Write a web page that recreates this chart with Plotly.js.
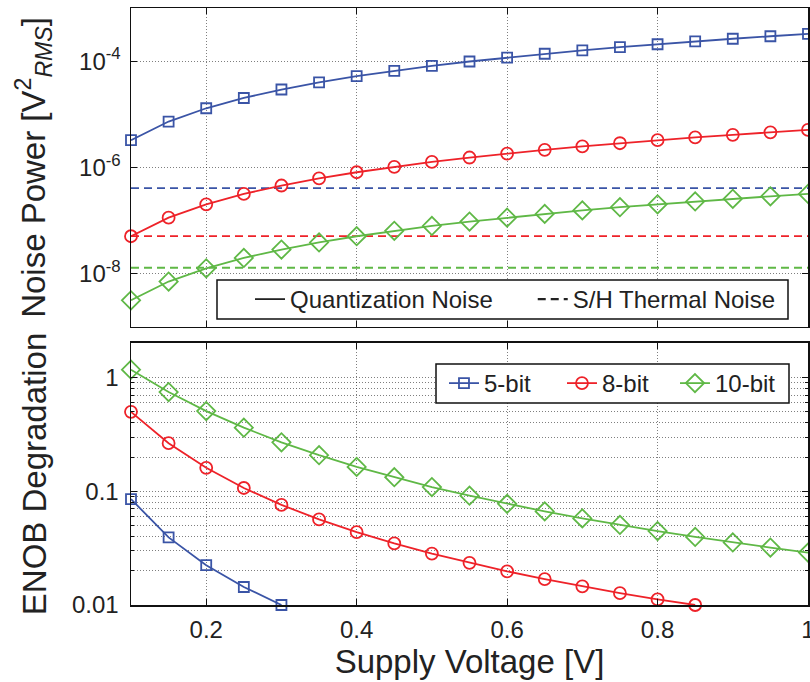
<!DOCTYPE html>
<html>
<head>
<meta charset="utf-8">
<script src="https://cdn.plot.ly/plotly-3.0.1.min.js"></script>
<style>
  html, body { margin: 0; padding: 0; background: #fff; }
  #chart { width: 810px; height: 682px; }
</style>
</head>
<body>
<div id="chart"></div>
<script>
// Supply voltage sweep [V]
const supplyVoltage = [0.1, 0.15, 0.2, 0.25, 0.3, 0.35, 0.4, 0.45, 0.5, 0.55,
                       0.6, 0.65, 0.7, 0.75, 0.8, 0.85, 0.9, 0.95, 1.0];

// Quantization noise power [V^2 rms]
const quantNoise5 = [3.26e-6, 7.32e-6, 1.30e-5, 2.03e-5, 2.93e-5, 3.99e-5, 5.21e-5, 6.59e-5, 8.14e-5, 9.85e-5,
                     1.17e-4, 1.38e-4, 1.60e-4, 1.83e-4, 2.08e-4, 2.35e-4, 2.64e-4, 2.94e-4, 3.26e-4];
const quantNoise8 = [5.09e-8, 1.14e-7, 2.03e-7, 3.18e-7, 4.58e-7, 6.23e-7, 8.14e-7, 1.03e-6, 1.27e-6, 1.54e-6,
                     1.83e-6, 2.15e-6, 2.49e-6, 2.86e-6, 3.26e-6, 3.67e-6, 4.12e-6, 4.59e-6, 5.09e-6];
const quantNoise10 = [3.18e-9, 7.15e-9, 1.27e-8, 1.99e-8, 2.86e-8, 3.89e-8, 5.09e-8, 6.44e-8, 7.95e-8, 9.62e-8,
                      1.14e-7, 1.34e-7, 1.56e-7, 1.79e-7, 2.03e-7, 2.30e-7, 2.58e-7, 2.87e-7, 3.18e-7];

// S/H thermal noise power [V^2 rms]
const thermalNoise5 = 4.1e-7;
const thermalNoise8 = 5.1e-8;
const thermalNoise10 = 1.3e-8;

// ENOB degradation [bits], shown down to 0.01
const enob5 = [0.0855, 0.0393, 0.0224, 0.0144, 0.0100];
const enob8 = [0.500, 0.265, 0.161, 0.107, 0.076, 0.0566, 0.0437, 0.0348, 0.0283, 0.0235,
               0.0198, 0.0169, 0.0146, 0.0127, 0.0112, 0.0100];
const enob10 = [1.174, 0.747, 0.508, 0.363, 0.270, 0.208, 0.164, 0.133, 0.109, 0.0915,
                0.0776, 0.0666, 0.0578, 0.0506, 0.0447, 0.0397, 0.0355, 0.0320, 0.0289];

// Tick labels
const voltageTicks = [0.2, 0.4, 0.6, 0.8, 1];
const voltageTickText = ['0.2', '0.4', '0.6', '0.8', '1'];
const noiseTicks = [1e-8, 1e-6, 1e-4];
const noiseTickText = ['10<sup>-8</sup>', '10<sup>-6</sup>', '10<sup>-4</sup>'];
const enobTicks = [0.01, 0.1, 1];
const enobTickText = ['0.01', '0.1', '1'];
const enobMinorTicks = [0.02, 0.03, 0.04, 0.05, 0.06, 0.07, 0.08, 0.09,
                        0.2, 0.3, 0.4, 0.5, 0.6, 0.7, 0.8, 0.9, 2];

const BLUE = '#3a54a6';
const RED = '#ee2229';
const GREEN = '#5fb846';
const FONT = 'Liberation Sans, Arial, Helvetica, sans-serif';
const LW = 1.8;
const DASH = '8px,5px';
const GRID_COLOR = 'rgba(0,0,0,0.5)';
const GRID_DASH = '1px,2px';

const series = [
  { name: '5-bit',  color: BLUE,  symbol: 'square-open',  size: 10, q: quantNoise5,  th: thermalNoise5,  enob: enob5,  key: 'legend3' },
  { name: '8-bit',  color: RED,   symbol: 'circle-open',  size: 12, q: quantNoise8,  th: thermalNoise8,  enob: enob8,  key: 'legend4' },
  { name: '10-bit', color: GREEN, symbol: 'diamond-open', size: 14, q: quantNoise10, th: thermalNoise10, enob: enob10, key: 'legend5' }
];

const traces = [];

// Top panel: quantization noise curves and thermal noise levels
series.forEach(s => {
  traces.push({
    x: supplyVoltage, y: s.q, xaxis: 'x', yaxis: 'y',
    type: 'scatter', mode: 'lines+markers', showlegend: false,
    line: { color: s.color, width: LW },
    marker: { symbol: s.symbol, size: s.size, color: s.color, line: { color: s.color, width: LW } },
    cliponaxis: false
  });
  traces.push({
    x: supplyVoltage, y: supplyVoltage.map(() => s.th), xaxis: 'x', yaxis: 'y',
    type: 'scatter', mode: 'lines', showlegend: false,
    line: { color: s.color, width: LW, dash: DASH }
  });
});

// Line-style key for the top panel
traces.push({
  x: [null], y: [null], xaxis: 'x', yaxis: 'y', type: 'scatter', mode: 'lines',
  name: 'Quantization Noise', legend: 'legend',
  line: { color: '#222', width: LW }
});
traces.push({
  x: [null], y: [null], xaxis: 'x', yaxis: 'y', type: 'scatter', mode: 'lines',
  name: 'S/H Thermal Noise', legend: 'legend2',
  line: { color: '#222', width: 2.2, dash: DASH }
});

// Bottom panel: ENOB degradation
series.forEach(s => {
  traces.push({
    x: supplyVoltage.slice(0, s.enob.length), y: s.enob, xaxis: 'x2', yaxis: 'y2',
    type: 'scatter', mode: 'lines+markers', name: s.name, legend: s.key,
    line: { color: s.color, width: LW },
    marker: { symbol: s.symbol, size: s.size, color: s.color, line: { color: s.color, width: LW } },
    cliponaxis: false
  });
});

const gridStyle = { showgrid: true, gridcolor: GRID_COLOR, griddash: GRID_DASH, gridwidth: 1 };
const axisLine = { showline: true, linecolor: '#111', linewidth: 1.5, mirror: 'ticks',
                   ticks: 'inside', ticklen: 6, tickcolor: '#111', tickwidth: 1, zeroline: false };
const tickFont = { family: FONT, size: 24, color: '#222' };
const titleFont = { family: FONT, size: 33, color: '#222' };

const xBase = Object.assign({}, gridStyle, axisLine, {
  range: [0.1, 1], tickmode: 'array', tickvals: voltageTicks, ticktext: voltageTickText,
  tickfont: tickFont, ticklabeloverflow: 'allow'
});

// One single-entry legend per key item, placed inside framed boxes
function keyLegend(xPaper, yPaper) {
  return {
    x: xPaper, xanchor: 'left', y: yPaper, yanchor: 'middle', orientation: 'h',
    bgcolor: 'rgba(0,0,0,0)', borderwidth: 0,
    font: { family: FONT, size: 24, color: '#222' }
  };
}

const layout = {
  width: 810, height: 682,
  margin: { l: 131, r: 2, t: 8, b: 77 },
  paper_bgcolor: '#fff', plot_bgcolor: '#fff',
  font: { family: FONT, color: '#222' },
  xaxis: Object.assign({}, xBase, { anchor: 'y', domain: [0, 1], showticklabels: false }),
  xaxis2: Object.assign({}, xBase, {
    anchor: 'y2', domain: [0, 1], matches: 'x', ticklabelstandoff: 3,
    title: { text: 'Supply Voltage [V]', font: titleFont, standoff: 2 }
  }),
  yaxis: Object.assign({}, gridStyle, axisLine, {
    type: 'log', range: [-9, -3], domain: [0.4657, 1], anchor: 'x',
    tickmode: 'array', tickvals: noiseTicks, ticktext: noiseTickText,
    tickfont: tickFont, ticklabelstandoff: 4,
    title: { text: 'Noise Power [V<sup>2</sup><sub><i>RMS</i></sub>]', font: titleFont, standoff: 23 }
  }),
  yaxis2: Object.assign({}, gridStyle, axisLine, {
    type: 'log', range: [-2, 0.305], domain: [0, 0.4389], anchor: 'x2',
    tickmode: 'array', tickvals: enobTicks, ticktext: enobTickText,
    tickfont: tickFont, ticklabelstandoff: 6,
    minor: { tickmode: 'array', tickvals: enobMinorTicks, ticks: 'inside', ticklen: 3,
             tickcolor: '#111', showgrid: true, gridcolor: GRID_COLOR, griddash: GRID_DASH, gridwidth: 1 },
    title: { text: 'ENOB Degradation', font: titleFont, standoff: 15 }
  }),
  legend:  keyLegend(0.1758, 0.5117),
  legend2: keyLegend(0.5934, 0.5117),
  legend3: keyLegend(0.4623, 0.371),
  legend4: keyLegend(0.6366, 0.371),
  legend5: keyLegend(0.8035, 0.371),
  shapes: [
    { type: 'rect', xref: 'paper', yref: 'paper', x0: 0.12703, x1: 0.97046, y0: 0.47906, y1: 0.54439,
      fillcolor: '#fff', line: { color: '#111', width: 1.5 }, layer: 'above' },
    { type: 'rect', xref: 'paper', yref: 'paper', x0: 0.45052, x1: 0.97194, y0: 0.33836, y1: 0.40369,
      fillcolor: '#fff', line: { color: '#111', width: 1.5 }, layer: 'above' }
  ],
  showlegend: true
};

Plotly.newPlot('chart', traces, layout, { staticPlot: true, displayModeBar: false });
</script>
</body>
</html>
